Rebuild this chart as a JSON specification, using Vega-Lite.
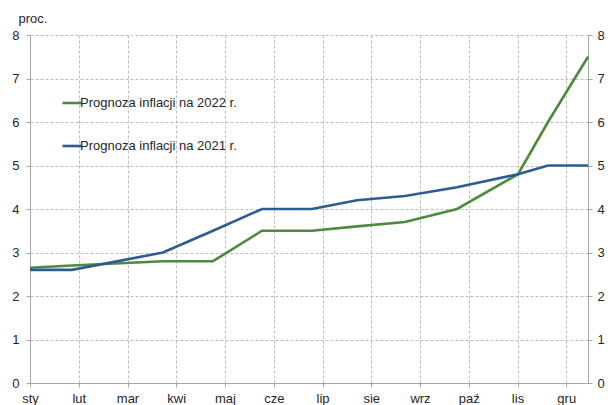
{
  "$schema": "https://vega.github.io/schema/vega-lite/v6.json",
  "width": 558,
  "height": 348,
  "autosize": {"type": "none"},
  "padding": {"left": 30, "top": 35, "right": 20, "bottom": 22},
  "background": "white",
  "config": {
    "view": {"stroke": null},
    "font": "Liberation Sans",
    "axis": {
      "labelFont": "Liberation Sans",
      "labelFontSize": 13,
      "labelColor": "#262626",
      "domainColor": "#a6a6a6",
      "tickColor": "#a6a6a6",
      "tickSize": 4,
      "gridColor": "#bdbdbd",
      "gridDash": [3, 2],
      "gridWidth": 1
    }
  },
  "data": {
    "values": [
      {"m": 0, "v": 2.65, "s": "Prognoza inflacji na 2022 r."},
      {"m": 0.862, "v": 2.7, "s": "Prognoza inflacji na 2022 r."},
      {"m": 2.728, "v": 2.8, "s": "Prognoza inflacji na 2022 r."},
      {"m": 3.754, "v": 2.8, "s": "Prognoza inflacji na 2022 r."},
      {"m": 4.759, "v": 3.5, "s": "Prognoza inflacji na 2022 r."},
      {"m": 5.785, "v": 3.5, "s": "Prognoza inflacji na 2022 r."},
      {"m": 6.708, "v": 3.6, "s": "Prognoza inflacji na 2022 r."},
      {"m": 7.692, "v": 3.7, "s": "Prognoza inflacji na 2022 r."},
      {"m": 8.759, "v": 4.0, "s": "Prognoza inflacji na 2022 r."},
      {"m": 10.01, "v": 4.8, "s": "Prognoza inflacji na 2022 r."},
      {"m": 10.626, "v": 6.0, "s": "Prognoza inflacji na 2022 r."},
      {"m": 11.446, "v": 7.5, "s": "Prognoza inflacji na 2022 r."},
      {"m": 0, "v": 2.6, "s": "Prognoza inflacji na 2021 r."},
      {"m": 0.862, "v": 2.6, "s": "Prognoza inflacji na 2021 r."},
      {"m": 2.728, "v": 3.0, "s": "Prognoza inflacji na 2021 r."},
      {"m": 3.754, "v": 3.5, "s": "Prognoza inflacji na 2021 r."},
      {"m": 4.759, "v": 4.0, "s": "Prognoza inflacji na 2021 r."},
      {"m": 5.785, "v": 4.0, "s": "Prognoza inflacji na 2021 r."},
      {"m": 6.708, "v": 4.2, "s": "Prognoza inflacji na 2021 r."},
      {"m": 7.692, "v": 4.3, "s": "Prognoza inflacji na 2021 r."},
      {"m": 8.759, "v": 4.5, "s": "Prognoza inflacji na 2021 r."},
      {"m": 10.01, "v": 4.8, "s": "Prognoza inflacji na 2021 r."},
      {"m": 10.626, "v": 5.0, "s": "Prognoza inflacji na 2021 r."},
      {"m": 11.446, "v": 5.0, "s": "Prognoza inflacji na 2021 r."}
    ]
  },
  "layer": [
    {
      "mark": {"type": "line", "strokeWidth": 2.6, "opacity": 0},
      "encoding": {
        "x": {
          "field": "m", "type": "quantitative",
          "scale": {"domain": [0, 11.446], "nice": false, "zero": false},
          "axis": {
            "values": [0,1,2,3,4,5,6,7,8,9,10,11],
            "labelExpr": "['sty','lut','mar','kwi','maj','cze','lip','sie','wrz','paź','lis','gru'][datum.value]",
            "labelPadding": 5,
            "labelFlush": false,
            "title": null,
            "grid": true
          }
        },
        "y": {
          "field": "v", "type": "quantitative",
          "scale": {"domain": [0, 8], "nice": false},
          "axis": {"orient": "right", "values": [0,1,2,3,4,5,6,7,8], "grid": false, "labelPadding": 5, "title": null}
        },
        "detail": {"field": "s"}
      }
    },
    {
      "mark": {"type": "line", "strokeWidth": 2.6},
      "encoding": {
        "x": {
          "field": "m", "type": "quantitative",
          "scale": {"domain": [0, 11.446], "nice": false, "zero": false},
          "axis": {
            "values": [0,1,2,3,4,5,6,7,8,9,10,11],
            "labelExpr": "['sty','lut','mar','kwi','maj','cze','lip','sie','wrz','paź','lis','gru'][datum.value]",
            "labelPadding": 5,
            "labelFlush": false,
            "title": null,
            "grid": true
          }
        },
        "y": {
          "field": "v", "type": "quantitative",
          "scale": {"domain": [0, 8], "nice": false},
          "axis": {
            "values": [0,1,2,3,4,5,6,7,8],
            "grid": true,
            "labelPadding": 7,
            "title": "proc.",
            "titleAngle": 0,
            "titleAlign": "left",
            "titleBaseline": "alphabetic",
            "titleX": -12,
            "titleY": -13,
            "titleFont": "Liberation Sans",
            "titleFontSize": 13,
            "titleFontWeight": "normal",
            "titleColor": "#262626"
          }
        },
        "color": {
          "field": "s", "type": "nominal",
          "scale": {"domain": ["Prognoza inflacji na 2022 r.", "Prognoza inflacji na 2021 r."], "range": ["#4f8a3c", "#2b5d92"]},
          "legend": {
            "orient": "none",
            "legendX": 31,
            "legendY": 57,
            "title": null,
            "symbolType": "stroke",
            "symbolSize": 361,
            "symbolStrokeWidth": 2.6,
            "labelFont": "Liberation Sans",
            "labelFontSize": 13,
            "labelColor": "#262626",
            "labelOffset": -3,
            "rowPadding": 25
          }
        }
      }
    }
  ],
  "resolve": {"axis": {"y": "independent"}}
}
